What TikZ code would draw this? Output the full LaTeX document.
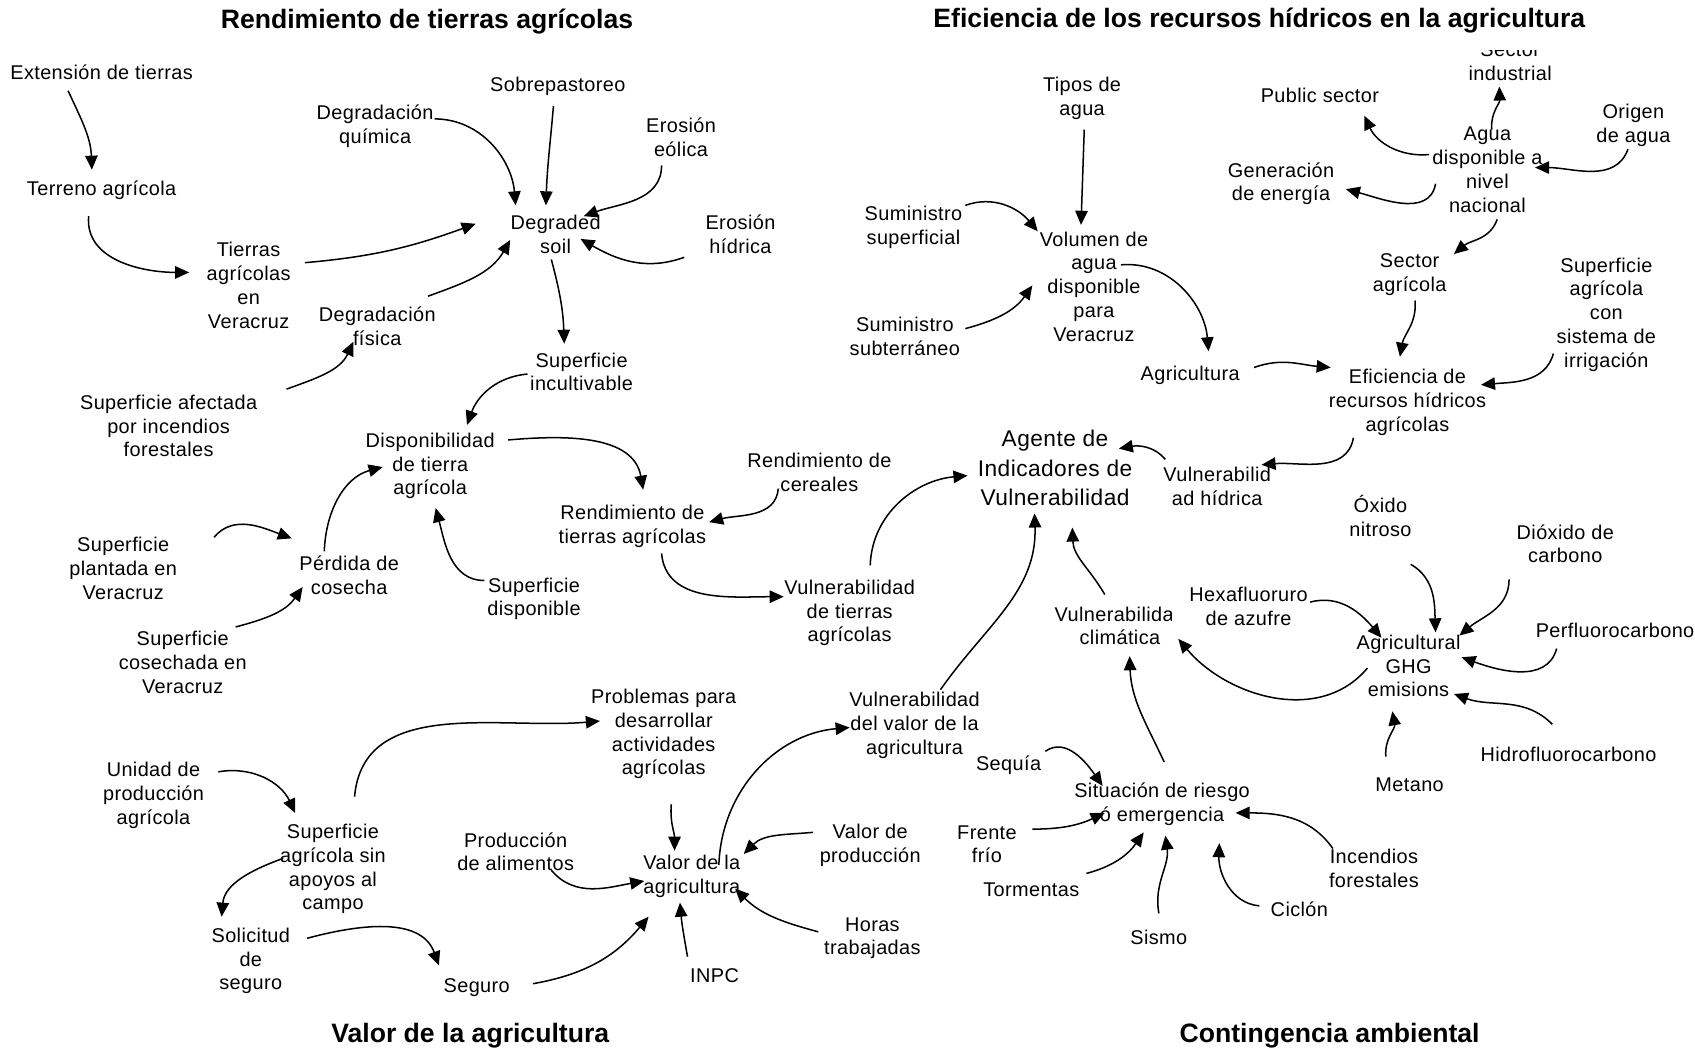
\documentclass[tikz,border=0pt]{standalone}
\usepackage{fontspec}
\setmainfont[LetterSpace=2]{Liberation Sans}
\newfontfamily\headfont{Liberation Sans}
\usetikzlibrary{arrows.meta}
\begin{document}
\begin{tikzpicture}[x=1pt,y=1pt,
  lbl/.style={align=center, font=\fontsize{18.4}{22}\selectfont, inner sep=1pt},
  big/.style={align=center, font=\fontsize{21}{27}\selectfont, inner sep=1pt},
  ttl/.style={font=\headfont\bfseries\fontsize{24.6}{28}\selectfont, inner sep=0pt},
  arr/.style={-{Triangle[length=13pt,width=11.5pt]}, line width=1.4pt}]
\useasboundingbox[fill=white] (0,0) rectangle (1568,-973);

% section titles
\node[ttl] (t1) at (395,-20) {Rendimiento de tierras agrícolas};
\node[ttl] (t2) at (1165,-19) {Eficiencia de los recursos hídricos en la agricultura};
\node[ttl] (t3) at (435,-958) {Valor de la agricultura};
\node[ttl] (t4) at (1230,-958) {Contingencia ambiental};

% land yield
\node[lbl] (ext) at (94,-67) {Extensión de tierras};
\node[lbl] (terr) at (94,-176) {Terreno agrícola};
\node[lbl] (tva) at (230,-264) {Tierras\\agrícolas\\en\\Veracruz};
\node[lbl] (dq) at (347,-117) {Degradación\\química};
\node[lbl] (sob) at (516,-80) {Sobrepastoreo};
\node[lbl] (eeo) at (630,-127) {Erosión\\eólica};
\node[lbl] (eh) at (685,-217) {Erosión\\hídrica};
\node[lbl] (ds) at (514,-217) {Degraded\\soil};
\node[lbl] (df) at (349,-302) {Degradación\\física};
\node[lbl] (sai) at (156,-394) {Superficie afectada\\por incendios\\forestales};
\node[lbl] (si) at (538,-344) {Superficie\\incultivable};
\node[lbl] (dta) at (398,-431) {Disponibilidad\\de tierra\\agrícola};
\node[lbl] (rc) at (758,-437) {Rendimiento de\\cereales};
\node[lbl] (rta) at (585,-487) {Rendimiento de\\tierras agrícolas};
\node[lbl] (spv) at (114,-526) {Superficie\\plantada en\\Veracruz};
\node[lbl] (pc) at (323,-532) {Pérdida de\\cosecha};
\node[lbl] (sd) at (494,-554) {Superficie\\disponible};
\node[lbl] (scv) at (169,-613) {Superficie\\cosechada en\\Veracruz};
\node[lbl] (vta) at (786,-567) {Vulnerabilidad\\de tierras\\agrícolas};

% water efficiency
\node[lbl] (tda) at (1001,-91) {Tipos de\\agua};
\begin{scope}
  \clip (1320,-47) rectangle (1480,-90);
  \node[lbl] (sind) at (1397,-57) {Sector\\industrial};
\end{scope}
\node[lbl] (ps) at (1221,-88) {Public sector};
\node[lbl] (oda) at (1511,-116) {Origen\\de agua};
\node[lbl] (adn) at (1376,-157) {Agua\\disponible a\\nivel\\nacional};
\node[lbl] (gde) at (1185,-170) {Generación\\de energía};
\node[lbl] (ss) at (845,-210) {Suministro\\superficial};
\node[lbl] (vad) at (1012,-265) {Volumen de\\agua\\disponible\\para\\Veracruz};
\node[lbl] (sa) at (1304,-254) {Sector\\agrícola};
\node[lbl] (sasi) at (1486,-291) {Superficie\\agrícola\\con\\sistema de\\irrigación};
\node[lbl] (ssub) at (837,-311) {Suministro\\subterráneo};
\node[lbl] (agr) at (1101,-347) {Agricultura};
\node[lbl] (erha) at (1302,-372) {Eficiencia de\\recursos hídricos\\agrícolas};
\node[big] (aiv) at (976,-433) {Agente de\\Indicadores de\\Vulnerabilidad};
\node[lbl] (vh) at (1126,-450) {Vulnerabilid\\ad hídrica};

% environmental contingency
\node[lbl] (on) at (1277,-477) {Óxido\\nitroso};
\node[lbl] (dc) at (1448,-503) {Dióxido de\\carbono};
\node[lbl] (hda) at (1155,-561) {Hexafluoruro\\de azufre};
\begin{scope}
  \clip (960,-550) rectangle (1084,-610);
  \node[lbl] (vc) at (1036,-579) {Vulnerabilidad\\climática};
\end{scope}
\node[lbl] (ghg) at (1303,-616) {Agricultural\\GHG\\emisions};
\node[lbl] (pfc) at (1494,-583) {Perfluorocarbono};
\node[lbl] (hfc) at (1451,-698) {Hidrofluorocarbono};
\node[lbl] (met) at (1304,-726) {Metano};
\node[lbl] (seq) at (933,-708) {Sequía};
\node[lbl] (sre) at (1075,-744) {Situación de riesgo\\ó emergencia};
\node[lbl] (ff) at (913,-781) {Frente\\frío};
\node[lbl] (tor) at (954,-823) {Tormentas};
\node[lbl] (inc) at (1271,-803) {Incendios\\forestales};
\node[lbl] (cic) at (1202,-841) {Ciclón};
\node[lbl] (sis) at (1072,-867) {Sismo};

% agricultural value
\node[lbl] (ppd) at (614,-679) {Problemas para\\desarrollar\\actividades\\agrícolas};
\node[lbl] (vva) at (846,-671) {Vulnerabilidad\\del valor de la\\agricultura};
\node[lbl] (udp) at (142,-736) {Unidad de\\producción\\agrícola};
\node[lbl] (sasa) at (308,-804) {Superficie\\agrícola sin\\apoyos al\\campo};
\node[lbl] (pda) at (477,-788) {Producción\\de alimentos};
\node[lbl] (vda) at (640,-811) {Valor de la\\agricultura};
\node[lbl] (vp) at (805,-782) {Valor de\\producción};
\node[lbl] (sds) at (232,-889) {Solicitud\\de\\seguro};
\node[lbl] (ht) at (807,-868) {Horas\\trabajadas};
\node[lbl] (seg) at (441,-914) {Seguro};
\node[lbl] (inpc) at (661,-903) {INPC};

% connectors: land yield
\draw[arr] ([shift={(-31,-17)}]ext.center) to[out=-65,in=92] ([shift={(-9,19)}]terr.center);
\draw[arr] ([shift={(-12,-24)}]terr.center) to[out=-95,in=180] ([shift={(-55,12)}]tva.center);
\draw[arr] ([shift={(52,21)}]tva.center) to[out=5,in=200] ([shift={(-74,10)}]ds.center);
\draw[arr] ([shift={(55,7)}]dq.center) to[out=0,in=95] ([shift={(-37,27)}]ds.center);
\draw[arr] ([shift={(-4,-18)}]sob.center) to[out=-95,in=88] ([shift={(-9,27)}]ds.center);
\draw[arr] ([shift={(-18,-26)}]eeo.center) to[out=-90,in=20] ([shift={(26,17)}]ds.center);
\draw[arr] ([shift={(-52,-21)}]eh.center) to[out=200,in=-30] ([shift={(23,-4)}]ds.center);
\draw[arr] ([shift={(47,28)}]df.center) to[out=20,in=-120] ([shift={(-42,-5)}]ds.center);
\draw[arr] ([shift={(109,34)}]sai.center) to[out=20,in=-115] ([shift={(-22,-14)}]df.center);
\draw[arr] ([shift={(-4,-23)}]ds.center) to[out=-75,in=92] ([shift={(-16,26)}]si.center);
\draw[arr] ([shift={(-50,-2)}]si.center) to[out=185,in=70] ([shift={(34,38)}]dta.center);
\draw[arr] ([shift={(72,24)}]dta.center) to[out=5,in=100] ([shift={(10,34)}]rta.center);
\draw[arr] ([shift={(-38,-15)}]rc.center) to[out=-95,in=15] ([shift={(71,4)}]rta.center);
\draw[arr] ([shift={(27,-25)}]rta.center) to[out=-85,in=180] ([shift={(-61,15)}]vta.center);
\draw[arr] ([shift={(19,44)}]vta.center) to[out=88,in=185] ([shift={(-81,-7)}]aiv.center);
\draw[arr] ([shift={(84,29)}]spv.center) to[out=50,in=160] ([shift={(-53,34)}]pc.center);
\draw[arr] ([shift={(49,33)}]scv.center) to[out=15,in=-125] ([shift={(-43,-11)}]pc.center);
\draw[arr] ([shift={(-23,22)}]pc.center) to[out=88,in=195] ([shift={(-44,-1)}]dta.center);
\draw[arr] ([shift={(-46,17)}]sd.center) to[out=180,in=-75] ([shift={(5,-39)}]dta.center);

% connectors: water efficiency
\draw[arr] ([shift={(2,-29)}]tda.center) to[out=-92,in=88] ([shift={(-12,57)}]vad.center);
\draw[arr] ([shift={(48,20)}]ss.center) to[out=20,in=130] ([shift={(-52,51)}]vad.center);
\draw[arr] ([shift={(56,7)}]ssub.center) to[out=15,in=-125] ([shift={(-57,1)}]vad.center);
\draw[arr] ([shift={(25,20)}]vad.center) to[out=5,in=95] ([shift={(17,22)}]agr.center);
\draw[arr] ([shift={(59,7)}]agr.center) to[out=20,in=175] ([shift={(-71,32)}]erha.center);
\draw[arr] ([shift={(5,-24)}]sa.center) to[out=-85,in=80] ([shift={(-7,42)}]erha.center);
\draw[arr] ([shift={(-49,-36)}]sasi.center) to[out=-105,in=5] ([shift={(68,16)}]erha.center);
\draw[arr] ([shift={(-50,-33)}]erha.center) to[out=-100,in=5] ([shift={(41,20)}]vh.center);
\draw[arr] ([shift={(-48,25)}]vh.center) to[out=130,in=10] ([shift={(59,18)}]aiv.center);
\draw[arr] ([shift={(-54,14)}]adn.center) to[out=185,in=-65] ([shift={(41,-19)}]ps.center);
\draw[arr] ([shift={(4,37)}]adn.center) to[out=95,in=-88] ([shift={(-10,-23)}]sind.center);
\draw[arr] ([shift={(-5,-22)}]oda.center) to[out=-110,in=0] ([shift={(44,2)}]adn.center);
\draw[arr] ([shift={(-48,-13)}]adn.center) to[out=-100,in=-15] ([shift={(60,-5)}]gde.center);
\draw[arr] ([shift={(9,-46)}]adn.center) to[out=-110,in=40] ([shift={(41,19)}]sa.center);

% connectors: environmental contingency
\draw[arr] ([shift={(24,33)}]vva.center) to[out=55,in=-88] ([shift={(-19,-42)}]aiv.center);
\draw[arr] ([shift={(-14,29)}]vc.center) to[out=120,in=-88] ([shift={(16,-55)}]aiv.center);
\draw[arr] ([shift={(-38,-2)}]ghg.center) to[out=-130,in=-50] ([shift={(54,-12)}]vc.center);
\draw[arr] ([shift={(2,39)}]sre.center) to[out=115,in=-88] ([shift={(9,-28)}]vc.center);
\draw[arr] ([shift={(57,4)}]hda.center) to[out=15,in=130] ([shift={(-25,26)}]ghg.center);
\draw[arr] ([shift={(28,-45)}]on.center) to[out=-30,in=92] ([shift={(25,31)}]ghg.center);
\draw[arr] ([shift={(-52,-33)}]dc.center) to[out=-90,in=40] ([shift={(47,28)}]ghg.center);
\draw[arr] ([shift={(-54,-17)}]pfc.center) to[out=-105,in=-20] ([shift={(49,8)}]ghg.center);
\draw[arr] ([shift={(-15,28)}]hfc.center) to[out=135,in=-20] ([shift={(42,-26)}]ghg.center);
\draw[arr] ([shift={(-22,26)}]met.center) to[out=95,in=-80] ([shift={(-15,-42)}]ghg.center);
\draw[arr] ([shift={(34,13)}]seq.center) to[out=35,in=125] ([shift={(-55,17)}]sre.center);
\draw[arr] ([shift={(42,14)}]ff.center) to[out=0,in=205] ([shift={(-53,-8)}]sre.center);
\draw[arr] ([shift={(51,15)}]tor.center) to[out=15,in=-125] ([shift={(-17,-26)}]sre.center);
\draw[arr] ([shift={(0,22)}]sis.center) to[out=100,in=-82] ([shift={(3,-29)}]sre.center);
\draw[arr] ([shift={(-37,3)}]cic.center) to[out=175,in=-92] ([shift={(53,-36)}]sre.center);
\draw[arr] ([shift={(-38,18)}]inc.center) to[out=125,in=0] ([shift={(68,-8)}]sre.center);

% connectors: agricultural value
\draw[arr] ([shift={(60,22)}]udp.center) to[out=10,in=115] ([shift={(-35,52)}]sasa.center);
\draw[arr] ([shift={(20,67)}]sasa.center) to[out=85,in=185] ([shift={(-59,12)}]ppd.center);
\draw[arr] ([shift={(-46,10)}]sasa.center) to[out=200,in=85] ([shift={(-27,41)}]sds.center);
\draw[arr] ([shift={(52,21)}]sds.center) to[out=15,in=110] ([shift={(-35,21)}]seg.center);
\draw[arr] ([shift={(52,4)}]seg.center) to[out=10,in=-130] ([shift={(-40,-37)}]vda.center);
\draw[arr] ([shift={(33,-17)}]pda.center) to[out=-50,in=190] ([shift={(-44,-4)}]vda.center);
\draw[arr] ([shift={(7,-65)}]ppd.center) to[out=-95,in=90] ([shift={(-16,24)}]vda.center);
\draw[arr] ([shift={(25,11)}]vda.center) to[out=88,in=185] ([shift={(-60,-2)}]vva.center);
\draw[arr] ([shift={(-53,12)}]vp.center) to[out=185,in=45] ([shift={(48,21)}]vda.center);
\draw[arr] ([shift={(-50,6)}]ht.center) to[out=165,in=-45] ([shift={(40,-11)}]vda.center);
\draw[arr] ([shift={(-25,18)}]inpc.center) to[out=100,in=-85] ([shift={(-11,-24)}]vda.center);
\end{tikzpicture}
\end{document}
